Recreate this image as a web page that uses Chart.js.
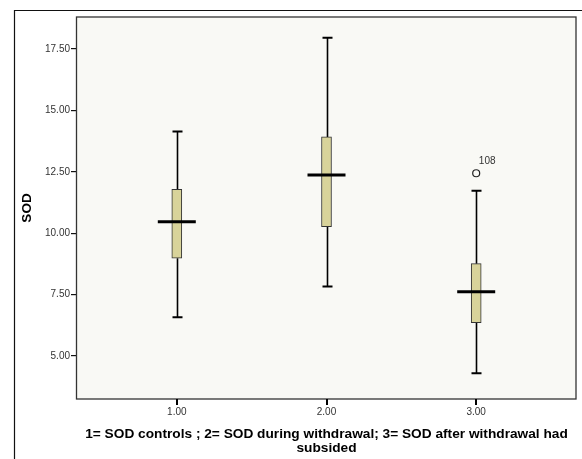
<!DOCTYPE html>
<html>
<head>
<meta charset="utf-8">
<script src="https://cdn.jsdelivr.net/npm/chart.js@4.4.1/dist/chart.umd.min.js"></script>
<style>
  html, body { margin: 0; padding: 0; background: #ffffff; }
  #wrap { width: 582px; height: 459px; position: relative; }
</style>
</head>
<body>
<div id="wrap"><canvas id="c" width="582" height="459"></canvas></div>
<script>
// ---- data ----
const categories = [1, 2, 3];
const categoryLabels = ['1.00', '2.00', '3.00'];
const whiskerMin = [6.58, 7.83, 4.30];
const q1Values = [8.98, 10.27, 6.36];
const medianValues = [10.47, 12.37, 7.62];
const q3Values = [11.79, 13.92, 8.76];
const whiskerMax = [14.14, 17.96, 11.73];
const outlierX = [3];
const outlierY = [12.44];
const outlierLabels = ['108'];
const yTicks = [5, 7.5, 10, 12.5, 15, 17.5];
const yTitle = 'SOD';
const xTitle = ['1= SOD controls ; 2= SOD during withdrawal; 3= SOD after withdrawal had', 'subsided'];

const boxData = categories.map((c, i) => ({ x: c, y: [q1Values[i], q3Values[i]] }));
const outlierData = outlierX.map((x, i) => ({ x: x, y: outlierY[i] }));

const framePlugin = {
  id: 'framePlugin',
  beforeDraw(chart) {
    const { ctx, chartArea: a } = chart;
    ctx.save();
    ctx.fillStyle = '#f9f9f5';
    ctx.fillRect(a.left, a.top, a.right - a.left, a.bottom - a.top);
    // outer frame
    ctx.strokeStyle = '#111';
    ctx.lineWidth = 1.2;
    ctx.beginPath();
    ctx.moveTo(14.5, chart.height);
    ctx.lineTo(14.5, 10.5);
    ctx.lineTo(chart.width, 10.5);
    ctx.stroke();
    ctx.restore();
  },
  beforeDatasetsDraw(chart) {
    const { ctx } = chart;
    const xs = chart.scales.x, ys = chart.scales.y;
    ctx.save();
    ctx.strokeStyle = '#000';
    categories.forEach((c, i) => {
      const px = Math.round(xs.getPixelForValue(c)) + 0.5;
      const yMax = ys.getPixelForValue(whiskerMax[i]);
      const yMin = ys.getPixelForValue(whiskerMin[i]);
      const yQ1 = ys.getPixelForValue(q1Values[i]);
      const yQ3 = ys.getPixelForValue(q3Values[i]);
      ctx.lineWidth = 1.6;
      ctx.beginPath();
      ctx.moveTo(px, yMax); ctx.lineTo(px, yQ3);
      ctx.moveTo(px, yQ1); ctx.lineTo(px, yMin);
      ctx.stroke();
      ctx.lineWidth = 2;
      ctx.beginPath();
      ctx.moveTo(px - 5, yMax); ctx.lineTo(px + 5, yMax);
      ctx.moveTo(px - 5, yMin); ctx.lineTo(px + 5, yMin);
      ctx.stroke();
    });
    ctx.restore();
  },
  afterDatasetsDraw(chart) {
    const { ctx, chartArea: a } = chart;
    const xs = chart.scales.x, ys = chart.scales.y;
    ctx.save();
    ctx.strokeStyle = '#000';
    ctx.lineWidth = 3;
    categories.forEach((c, i) => {
      const px = xs.getPixelForValue(c);
      const pm = ys.getPixelForValue(medianValues[i]);
      ctx.beginPath();
      ctx.moveTo(px - 19, pm); ctx.lineTo(px + 19, pm);
      ctx.stroke();
    });
    // outlier labels
    ctx.fillStyle = '#333';
    ctx.font = '10px "Liberation Sans", Arial, sans-serif';
    ctx.textAlign = 'center';
    ctx.textBaseline = 'middle';
    outlierX.forEach((x, i) => {
      const px = xs.getPixelForValue(x);
      const py = ys.getPixelForValue(outlierY[i]);
      ctx.fillText(outlierLabels[i], px + 11, py - 12);
    });
    // plot border
    ctx.strokeStyle = '#333';
    ctx.lineWidth = 1.3;
    ctx.strokeRect(a.left - 0.5, a.top, a.right - a.left + 0.5, a.bottom - a.top);
    ctx.restore();
  },
  afterDraw(chart) {
    const { ctx, chartArea: a } = chart;
    const xs = chart.scales.x;
    ctx.save();
    ctx.fillStyle = '#000';
    categories.forEach((c) => {
      const px = Math.round(xs.getPixelForValue(c));
      ctx.fillRect(px - 1, a.bottom, 2, 6);
    });
    ctx.restore();
  }
};

new Chart(document.getElementById('c'), {
  type: 'bar',
  data: {
    datasets: [
      {
        type: 'bar',
        data: boxData,
        backgroundColor: '#d8d39a',
        borderColor: '#333',
        borderWidth: 1,
        borderSkipped: false,
        barThickness: 10
      },
      {
        type: 'scatter',
        data: outlierData,
        pointStyle: 'circle',
        pointRadius: 3.5,
        pointBackgroundColor: 'rgba(0,0,0,0)',
        pointBorderColor: '#222',
        pointBorderWidth: 1.2
      }
    ]
  },
  options: {
    responsive: false,
    animation: false,
    events: [],
    layout: { padding: { top: 17, right: 6, left: 0, bottom: 0 } },
    plugins: { legend: { display: false }, tooltip: { enabled: false } },
    scales: {
      x: {
        type: 'linear',
        min: 1 / 3,
        max: 11 / 3,
        offset: false,
        afterBuildTicks(scale) { scale.ticks = categories.map(v => ({ value: v })); },
        afterFit(scale) { scale.height = 60; },
        grid: { offset: false, display: false, tickLength: 5 },
        border: { display: false },
        ticks: {
          autoSkip: false,
          maxRotation: 0,
          padding: 2,
          color: '#333',
          font: { family: '"Liberation Sans", Arial, sans-serif', size: 10 },
          callback: (v) => categoryLabels[categories.indexOf(v)]
        },
        title: {
          display: true,
          text: xTitle,
          color: '#000',
          font: { family: '"Liberation Sans", Arial, sans-serif', size: 13.7, weight: 'bold', lineHeight: 14 / 13.7 },
          padding: { top: 0, bottom: 4 }
        }
      },
      y: {
        type: 'linear',
        min: 3.25,
        max: 18.8,
        afterBuildTicks(scale) { scale.ticks = yTicks.map(v => ({ value: v })); },
        afterFit(scale) { scale.width = 77; },
        grid: { drawOnChartArea: false, drawTicks: true, tickLength: 6, color: '#111', lineWidth: 1.2 },
        border: { display: false },
        ticks: {
          padding: 1,
          color: '#333',
          font: { family: '"Liberation Sans", Arial, sans-serif', size: 10 },
          callback: (v) => Number(v).toFixed(2)
        },
        title: {
          display: true,
          text: yTitle,
          color: '#000',
          font: { family: '"Liberation Sans", Arial, sans-serif', size: 13.5, weight: 'bold', lineHeight: 1.2 },
          padding: { top: 19, bottom: 0 }
        }
      }
    }
  },
  plugins: [framePlugin]
});
</script>
</body>
</html>
